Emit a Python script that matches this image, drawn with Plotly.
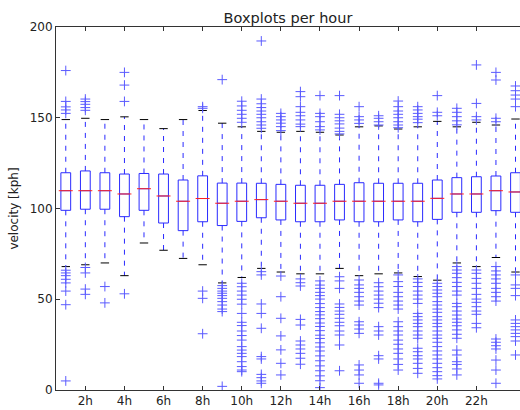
import plotly.graph_objects as go

hours = list(range(1, 25))
q1 = [99.0, 99.6, 99.6, 95.5, 99.0, 92.0, 87.8, 92.7, 90.6, 92.9, 94.9, 93.7,
      92.7, 92.7, 93.7, 92.7, 92.7, 93.7, 92.7, 94.0, 97.9, 97.9, 98.8, 97.9]
medians = [109.8, 109.8, 109.8, 108.0, 110.9, 106.9, 104.0, 105.5, 102.9, 104.0, 104.9, 104.0,
           102.9, 102.9, 104.0, 104.0, 104.0, 104.0, 104.0, 105.6, 108.0, 108.0, 109.8, 109.1]
q3 = [119.7, 120.7, 119.7, 119.0, 119.3, 119.0, 115.7, 118.0, 114.0, 114.0, 113.9, 113.3,
      112.8, 112.8, 113.3, 114.2, 113.9, 113.9, 113.9, 115.7, 117.0, 117.5, 117.9, 119.7]
whisker_low = [68, 69, 70, 63, 81, 77, 72.5, 69, 59, 62, 67, 65,
               64, 64, 67, 63, 64, 64.5, 62.5, 60.5, 70, 68, 73, 65]
whisker_high = [149, 149.7, 149, 150.5, 149, 144, 149, 154, 147, 145, 142.5, 142,
                142.5, 142, 140.5, 145, 145.5, 143.8, 145, 148, 145, 147.5, 146, 149.3]
fliers = [
    [176, 159, 156, 154.3, 152.4, 66, 64.5, 63, 61, 59, 54.5, 47, 5],
    [160.3, 158.9, 157.4, 155.6, 154.1, 67.5, 64.5, 55.6, 52.7],
    [57, 48],
    [175, 168, 159, 53],
    [],
    [],
    [],
    [156.1, 155.2, 54.5, 50.5, 31],
    [171, 57.5, 56, 54.5, 53.3, 52, 50.5, 48.7, 46.8, 44.6, 43.2, 2],
    [159.1, 156.5, 154.1, 151.9, 149.7, 147.5, 58.8, 56.9, 54.5, 52.3, 50, 47.3, 42.2, 37.3,
     35.5, 32.5, 30, 27.5, 23.9, 22, 20.2, 18.4, 15.6, 12.9, 11, 10.1],
    [192.3, 160.3, 157.7, 155.6, 153.7, 151.9, 150, 147.8, 146, 144.2, 65.2, 63.4, 47.4, 42.2,
     34, 18.4, 17.1, 8.6, 6.8, 5, 3.7],
    [152.4, 150.6, 148.8, 147, 145.1, 142.9, 62.8, 51.4, 39.5, 29.8, 22.1, 14.7, 8.3],
    [164.4, 161.6, 156.1, 153, 151.1, 148.8, 146.5, 145.1, 61.2, 59.1, 57.3, 38.9, 35.8, 27,
     24.8, 22.6, 20.2, 17.5, 14.2],
    [162.2, 152.4, 150.6, 147.8, 145.1, 143.3, 60.1, 57.8, 56, 53.8, 52, 50.1, 47.6, 45.4, 43.2,
     41.4, 39.3, 36.9, 35, 32.7, 30.2, 28.4, 26, 23.7, 21.5, 18.8, 16.1, 13.3, 10.6, 7.8, 5.1, 1.3],
    [162.2, 151.9, 150, 148.3, 146.6, 144.3, 142.5, 141.1, 62.4, 60.1, 56, 47.4, 45.5, 43.5,
     41.7, 39.5, 37.3, 35.4, 32.5, 30.3, 24.8, 10.6],
    [156.1, 150.6, 148.8, 146.9, 60.6, 57.9, 56, 53.8, 51.4, 49, 46.8, 37.6, 35.8, 33.6, 31.2,
     13.8, 11, 8.3, 3.7],
    [151.1, 149.7, 147.8, 146, 59.1, 56.9, 54.5, 52.3, 50.1, 47.8, 45.4, 34.9, 32.5, 30.3, 18.9,
     17.1, 3.7, 2.8],
    [159.2, 156.1, 153.7, 151.9, 150, 147.8, 146, 144.5, 63.4, 59.7, 57, 53.8, 51.4, 49, 46.8,
     44.6, 37.6, 34.9, 32.5, 30.3, 27.5, 25.2, 22.6, 20.2, 17.1, 14.1, 11],
    [156.1, 154.3, 152.4, 150.6, 149.2, 147.3, 61.2, 59.3, 57, 54.5, 52.3, 50.1, 47.7, 42.2,
     40.4, 38.6, 36.7, 34.9, 32.5, 30.3, 28.5, 23, 21.1, 18.9, 17.1, 14.7, 11.9, 9.2],
    [162.2, 153, 151.1, 58.8, 57, 55.1, 53.3, 51.4, 48.7, 46.8, 44.6, 42.8, 40.4, 38.6, 36.7,
     34.9, 32.5, 30.3, 28.5, 26.3, 23.9, 21.5, 19.3, 17.1, 14.7, 12.3, 10.1, 7.9, 6.1],
    [155.2, 153, 150.6, 148.3, 146.1, 68, 66.1, 64.3, 61.9, 59.3, 57, 54.5, 52.3, 47.7, 45.9,
     43.5, 41.3, 39.1, 37.3, 35.4, 33.1, 30.7, 28.5, 22, 19.3, 15.6, 14.1, 11.6, 8.3],
    [179.1, 157.9, 150.6, 148.8, 66.1, 64.3, 61.5, 58.8, 56, 52.7, 50.1, 48.3, 45.9, 43.5, 41.7,
     36.7, 34.3],
    [175, 170.8, 149.7, 147.8, 68, 65.6, 63.4, 61.2, 58.8, 56, 53.8, 51.4, 49, 28.1, 26.3, 24.4,
     22.6, 16.5, 11, 3.7],
    [167.5, 164.9, 162.5, 160.3, 156.1, 63.4, 57.9, 56, 52, 38.6, 36.7, 34.9, 33.1, 31.2, 29.4,
     27, 19.3],
]
tick_hours = [2, 4, 6, 8, 10, 12, 14, 16, 18, 20, 22]
tick_labels = [f"{h}h" for h in tick_hours]

BLUE = "#2a2aff"
FLIER = "#5a5aff"
FONT = "DejaVu Sans"

# whiskers (dashed)
wx, wy = [], []
for h, a, b, lo, hi in zip(hours, q1, q3, whisker_low, whisker_high):
    wx += [h, h, None, h, h, None]
    wy += [b, hi, None, a, lo, None]

fig = go.Figure()
fig.add_trace(go.Scatter(x=wx, y=wy, mode="lines", line=dict(color=BLUE, width=1, dash="5px,6px"),
                         hoverinfo="skip", showlegend=False))
fig.add_trace(go.Box(x=hours, q1=q1, median=medians, q3=q3, lowerfence=q1, upperfence=q3,
                     width=0.5, whiskerwidth=0, boxpoints=False,
                     line=dict(color=BLUE, width=1), fillcolor="rgba(255,255,255,0)",
                     showlegend=False, hoverinfo="skip"))
# caps
fig.add_trace(go.Scatter(x=hours + hours, y=whisker_low + whisker_high, mode="markers",
                         marker=dict(symbol="line-ew", size=6, color="black",
                                     line=dict(color="black", width=1)),
                         hoverinfo="skip", showlegend=False))
# medians
fig.add_trace(go.Scatter(x=hours, y=medians, mode="markers",
                         marker=dict(symbol="line-ew", size=10, color="red",
                                     line=dict(color="#ff2020", width=1)),
                         hoverinfo="skip", showlegend=False))
# fliers
fx, fy = [], []
for h, fl in zip(hours, fliers):
    fx += [h] * len(fl)
    fy += fl
fig.add_trace(go.Scatter(x=fx, y=fy, mode="markers",
                         marker=dict(symbol="cross-thin", size=7, color=FLIER,
                                     line=dict(color=FLIER, width=1)),
                         hoverinfo="skip", showlegend=False))

fig.update_layout(
    width=520, height=410,
    margin=dict(l=56, r=0, t=27, b=20),
    paper_bgcolor="white", plot_bgcolor="white",
    font=dict(family=FONT, size=12, color="#222222"),
    title=dict(text="Boxplots per hour", x=0.5, xref="paper", xanchor="center",
               y=1, yref="paper", yanchor="bottom", pad=dict(b=4),
               font=dict(family=FONT, size=14.5, color="#222222")),
    showlegend=False,
)
fig.update_xaxes(range=[0.5, 24.23], tickmode="array", tickvals=tick_hours, ticktext=tick_labels,
                 showgrid=False, zeroline=False, showline=True, linecolor="#333333", linewidth=1,
                 mirror="ticks", ticks="inside", ticklen=4, tickcolor="#333333",
                 tickfont=dict(family=FONT, size=12, color="#222222"))
fig.update_yaxes(range=[0, 200], tickmode="array", tickvals=[0, 50, 100, 150, 200],
                 showgrid=False, zeroline=False, showline=True, linecolor="#333333", linewidth=1,
                 ticks="inside", ticklen=4, tickcolor="#333333",
                 tickfont=dict(family=FONT, size=12, color="#222222"),
                 title=dict(text="velocity [kph]", standoff=8,
                            font=dict(family=FONT, size=12, color="#222222")))

fig.write_html("out.html")
